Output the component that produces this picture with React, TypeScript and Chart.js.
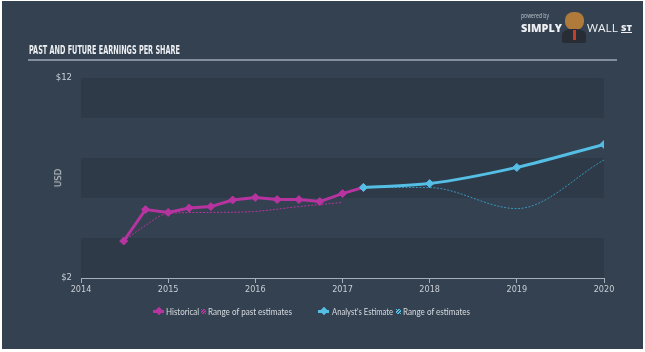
import React, { useEffect, useLayoutEffect, useRef } from "react";
import { Chart, registerables } from "chart.js";

Chart.register(...registerables);

const histX = [2014.49, 2014.74, 2015.0, 2015.24, 2015.49, 2015.74, 2016.0, 2016.25, 2016.5, 2016.74, 2017.0, 2017.24];
const histY = [3.85, 5.42, 5.28, 5.5, 5.57, 5.9, 6.03, 5.92, 5.92, 5.82, 6.22, 6.53];
const pastRangeX = [2014.49, 2014.72, 2015.0, 2015.5, 2016.0, 2016.5, 2017.0];
const pastRangeY = [3.85, 4.57, 5.23, 5.28, 5.33, 5.57, 5.78];
const estX = [2017.24, 2018.0, 2019.0, 2020.0];
const estY = [6.53, 6.72, 7.53, 8.68];
const estRangeX = [2017.24, 2018.0, 2019.0, 2020.0];
const estRangeY = [6.53, 6.52, 5.47, 7.9];
const yLabels: Record<number, string> = { 12: "$12", 2: "$2" };
const bandRanges = [[12, 10], [8, 6], [4, 2]];

const MAGENTA = "rgb(183,52,160)";
const CYAN = "rgb(84,190,229)";
const CYAN_DARK = "rgb(58,150,190)";
const BG = "rgb(52,65,80)";
const BAND = "rgb(46,58,72)";
const TXT = "rgb(200,206,212)";
const TICK_FONT = "'DejaVu Sans Condensed', 'DejaVu Sans', sans-serif";

const pts = (xs: number[], ys: number[]) => xs.map((x, i) => ({ x, y: ys[i] }));

const bandsPlugin = {
  id: "bands",
  beforeDatasetsDraw(chart: any) {
    const { ctx, chartArea, scales } = chart;
    ctx.save();
    ctx.fillStyle = BAND;
    for (const [a, b] of bandRanges) {
      const y1 = scales.y.getPixelForValue(a);
      const y2 = scales.y.getPixelForValue(b);
      ctx.fillRect(chartArea.left, y1, chartArea.right - chartArea.left, y2 - y1);
    }
    ctx.restore();
  },
};

function FitText({ text, left, top, width, style }: { text: string; left: number; top: number; width: number; style: React.CSSProperties }) {
  const ref = useRef<HTMLSpanElement>(null);
  useLayoutEffect(() => {
    const el = ref.current!;
    el.style.transform = "none";
    const w = el.getBoundingClientRect().width;
    if (w > 0) el.style.transform = `scaleX(${width / w})`;
  }, [text, width]);
  return (
    <span
      ref={ref}
      style={{ position: "absolute", left, top, whiteSpace: "nowrap", transformOrigin: "left top", ...style }}
    >
      {text}
    </span>
  );
}

function LegendIcon({ color, left }: { color: string; left: number }) {
  return (
    <span style={{ position: "absolute", left, top: 307, width: 11, height: 8 }}>
      <span style={{ position: "absolute", left: 0, top: 3, width: 11, height: 2.5, background: color }} />
      <span style={{ position: "absolute", left: 2.5, top: 1, width: 6, height: 6, background: color, transform: "rotate(45deg)" }} />
    </span>
  );
}

function Hatch({ color, left }: { color: string; left: number }) {
  return (
    <span
      style={{
        position: "absolute",
        left,
        top: 309,
        width: 5,
        height: 5,
        background: `repeating-linear-gradient(135deg, ${color} 0 1px, transparent 1px 2px)`,
      }}
    />
  );
}

export default function App() {
  const ref = useRef<HTMLCanvasElement>(null);
  useEffect(() => {
    const chart = new Chart(ref.current!, {
      type: "line",
      data: {
        datasets: [
          {
            label: "Analyst's Estimate",
            data: pts(estX, estY),
            borderColor: CYAN,
            backgroundColor: CYAN,
            borderWidth: 3,
            pointStyle: "rectRot",
            pointRadius: 4,
            pointBorderWidth: 1,
            cubicInterpolationMode: "monotone",
            order: 0,
          },
          {
            label: "Range of estimates",
            data: pts(estRangeX, estRangeY),
            borderColor: CYAN_DARK,
            borderWidth: 1,
            borderDash: [2, 1.5],
            pointRadius: 0,
            cubicInterpolationMode: "monotone",
            order: 3,
          },
          {
            label: "Historical",
            data: pts(histX, histY),
            borderColor: MAGENTA,
            backgroundColor: MAGENTA,
            borderWidth: 3,
            pointStyle: "rectRot",
            pointRadius: 4,
            pointBorderWidth: 1,
            tension: 0,
            order: 1,
          },
          {
            label: "Range of past estimates",
            data: pts(pastRangeX, pastRangeY),
            borderColor: MAGENTA,
            borderWidth: 1,
            borderDash: [2, 1.5],
            pointRadius: 0,
            cubicInterpolationMode: "monotone",
            order: 2,
          },
        ],
      },
      options: {
        animation: false,
        responsive: false,
        devicePixelRatio: 1,
        layout: { padding: { left: 0, right: 41, top: 78, bottom: 0 } },
        plugins: { legend: { display: false }, tooltip: { enabled: false } },
        scales: {
          x: {
            type: "linear",
            min: 2014,
            max: 2020,
            afterFit: (s: any) => { s.height = 74; },
            border: { display: true, color: "rgb(165,175,186)", width: 1 },
            grid: { display: true, drawOnChartArea: false, drawTicks: true, tickLength: 5, color: "rgb(165,175,186)" },
            ticks: {
              stepSize: 1,
              color: TXT,
              padding: 1,
              maxRotation: 0,
              font: { family: TICK_FONT, size: 9 },
              callback: (v: any) => String(v),
            },
          },
          y: {
            type: "linear",
            min: 2,
            max: 12,
            afterFit: (s: any) => { s.width = 81; },
            border: { display: false },
            grid: { display: false, drawTicks: false },
            ticks: {
              stepSize: 2,
              color: TXT,
              padding: 9,
              font: { family: TICK_FONT, size: 9.5 },
              callback: (v: any) => yLabels[v] ?? "",
            },
          },
        },
      },
      plugins: [bandsPlugin],
    } as any);
    return () => chart.destroy();
  }, []);

  const legendFont: React.CSSProperties = {
    fontFamily: "'Lato', 'DejaVu Sans', sans-serif",
    fontSize: 10,
    color: "rgb(215,220,225)",
    lineHeight: "12px",
  };
  const logoFont: React.CSSProperties = { fontFamily: "'Open Sans', sans-serif", color: "rgb(238,240,243)" };

  return (
    <div style={{ position: "fixed", left: 0, top: 0, width: 645, height: 352, background: "#ffffff", overflow: "hidden" }}>
      <div style={{ position: "absolute", left: 2, top: 1, width: 641, height: 348, background: BG }} />
      <canvas ref={ref} width={645} height={352} style={{ position: "absolute", left: 0, top: 0, width: 645, height: 352 }} />
      <FitText
        text="PAST AND FUTURE EARNINGS PER SHARE"
        left={29}
        top={43}
        width={151}
        style={{
          fontFamily: "'DejaVu Sans Condensed', 'DejaVu Sans', sans-serif",
          fontWeight: "bold",
          fontSize: 12.5,
          color: "rgb(236,239,242)",
          lineHeight: "14px",
        }}
      />
      <div style={{ position: "absolute", left: 28, top: 59, width: 589, height: 2, background: "rgb(130,142,155)" }} />
      <div
        style={{
          position: "absolute",
          left: 49,
          top: 178,
          fontFamily: TICK_FONT,
          fontSize: 9.5,
          color: TXT,
          transform: "translate(0,-50%) rotate(-90deg)",
          transformOrigin: "center",
          lineHeight: "12px",
        }}
      >
        USD
      </div>
      {/* logo */}
      <FitText text="powered by" left={521} top={11} width={28} style={{ ...logoFont, fontSize: 7, color: "rgb(190,196,203)", lineHeight: "9px" }} />
      <FitText text="SIMPLY" left={521} top={22} width={41} style={{ ...logoFont, fontWeight: 800, fontSize: 10, lineHeight: "12px" }} />
      <div style={{ position: "absolute", left: 565, top: 12, width: 19, height: 18, borderRadius: "45%", background: "rgb(176,122,58)" }} />
      <div style={{ position: "absolute", left: 562, top: 29, width: 24, height: 14, borderRadius: "40% 40% 10% 10%", background: "rgb(40,44,52)" }} />
      <div style={{ position: "absolute", left: 573, top: 30, width: 3, height: 10, background: "rgb(200,60,40)" }} />
      <FitText text="WALL" left={587} top={22} width={31} style={{ ...logoFont, fontSize: 10, lineHeight: "12px" }} />
      <FitText text="ST" left={621} top={22} width={11} style={{ ...logoFont, fontWeight: 800, fontSize: 9, lineHeight: "11px" }} />
      <div style={{ position: "absolute", left: 621, top: 32, width: 11, height: 1, background: "rgb(238,240,243)" }} />
      {/* legend */}
      <LegendIcon color={MAGENTA} left={153} />
      <FitText text="Historical" left={166} top={305} width={33} style={legendFont} />
      <Hatch color={MAGENTA} left={201} />
      <FitText text="Range of past estimates" left={208} top={305} width={84} style={legendFont} />
      <LegendIcon color={CYAN} left={318} />
      <FitText text="Analyst's Estimate" left={332} top={305} width={61} style={legendFont} />
      <Hatch color={CYAN} left={396} />
      <FitText text="Range of estimates" left={403} top={305} width={67} style={legendFont} />
    </div>
  );
}
